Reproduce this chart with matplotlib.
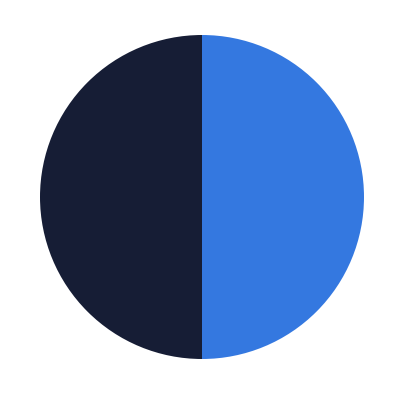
import matplotlib.pyplot as plt

# two equal slices, blue on the right, navy on the left
labels = ['A', 'B']
values = [50, 50]
colors = ['#3478e0', '#161d35']

fig = plt.figure(figsize=(4, 4), dpi=100)
ax = fig.add_axes([0.10, 0.1025, 0.81, 0.81])
ax.pie(values, colors=colors, startangle=90, counterclock=False,
       radius=1.0, wedgeprops={'linewidth': 0})
ax.set_xlim(-1, 1)
ax.set_ylim(-1, 1)
ax.set_aspect('equal')
ax.axis('off')

plt.savefig('out.png', dpi=100)
